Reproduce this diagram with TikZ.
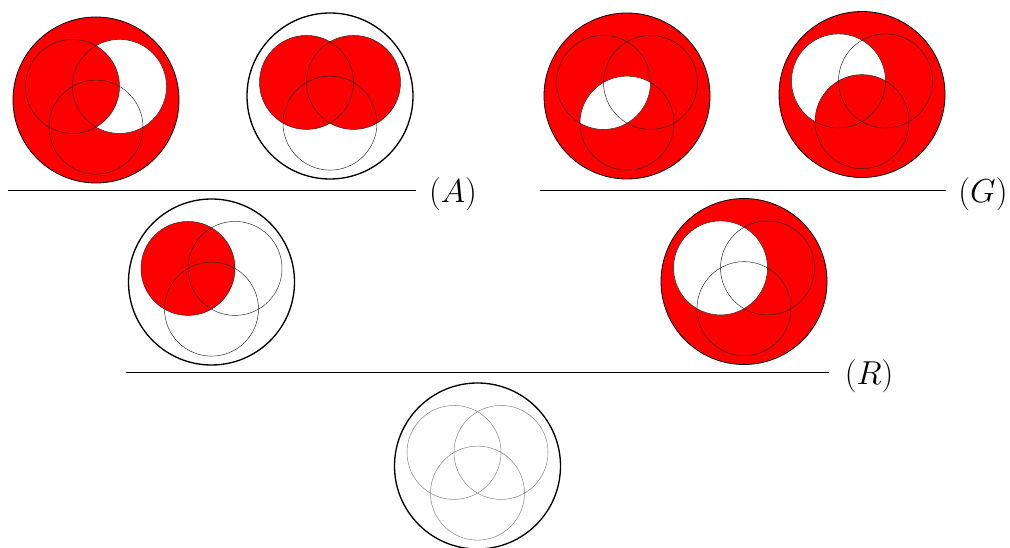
\documentclass[tikz,border=0pt]{standalone}
\begin{document}
\newcommand\VnA{(-23.5,-13.57) circle[radius=47]}
\newcommand\VnB{(23.5,-13.57) circle[radius=47]}
\newcommand\VnC{(0,27.13) circle[radius=47]}
\newcommand\VnU{(0,0) circle[radius=83]}
\begin{tikzpicture}[x=0.75pt,y=-0.75pt,
  setline/.style={draw=black!85,line width=0.35pt},
  faintline/.style={draw=black!45,line width=0.4pt},
  rimred/.style={draw=black,line width=0.6pt},
  rimwhite/.style={draw=black,line width=1.0pt},
  rule/.style={draw=black,line width=0.7pt},
  lbl/.style={inner sep=0pt,font=\fontsize{23}{27}\selectfont}]
\useasboundingbox (0,0) rectangle (1010,548);
% D1: complement of (B minus A)
\begin{scope}[shift={(96,100)}]
  \fill[red] \VnU; \fill[white] \VnB; \fill[red] \VnA;
  \draw[setline] \VnA \VnB \VnC;
  \draw[rimred] \VnU;
\end{scope}
% D2: A union B
\begin{scope}[shift={(330,96)}]
  \fill[red] \VnA \VnB;
  \draw[setline] \VnA \VnB \VnC;
  \draw[rimwhite] \VnU;
\end{scope}
% D3: complement of (A cap C)
\begin{scope}[shift={(627,96)}]
  \fill[red] \VnU;
  \begin{scope}\clip \VnA; \fill[white] \VnC; \end{scope}
  \draw[setline] \VnA \VnB \VnC;
  \draw[rimred] \VnU;
\end{scope}
% D4: complement of (A minus C)
\begin{scope}[shift={(862,94.5)}]
  \fill[red] \VnU; \fill[white] \VnA; \fill[red] \VnC;
  \draw[setline] \VnA \VnB \VnC;
  \draw[rimred] \VnU;
\end{scope}
% D5: A
\begin{scope}[shift={(211.5,282)}]
  \fill[red] \VnA;
  \draw[setline] \VnA \VnB \VnC;
  \draw[rimwhite] \VnU;
\end{scope}
% D6: complement of A
\begin{scope}[shift={(744,281.5)}]
  \fill[red] \VnU; \fill[white] \VnA;
  \draw[setline] \VnA \VnB \VnC;
  \draw[rimred] \VnU;
\end{scope}
% D7: empty
\begin{scope}[shift={(477.5,466)}]
  \draw[faintline] \VnA \VnB \VnC;
  \draw[rimwhite] \VnU;
\end{scope}
% rules and labels
\node[lbl] (la) at (453,194) {$(A)$};
\coordinate (a0) at (8,190.5); \coordinate (a1) at (416,190.5);
\draw[rule] (a0) -- (a1);
\node[lbl] (lg) at (983,194) {$(G)$};
\coordinate (g0) at (540,190.5); \coordinate (g1) at (946,190.5);
\draw[rule] (g0) -- (g1);
\node[lbl] (lr) at (869,376) {$(R)$};
\coordinate (r0) at (126,372); \coordinate (r1) at (829,372);
\draw[rule] (r0) -- (r1);
\end{tikzpicture}
\end{document}
